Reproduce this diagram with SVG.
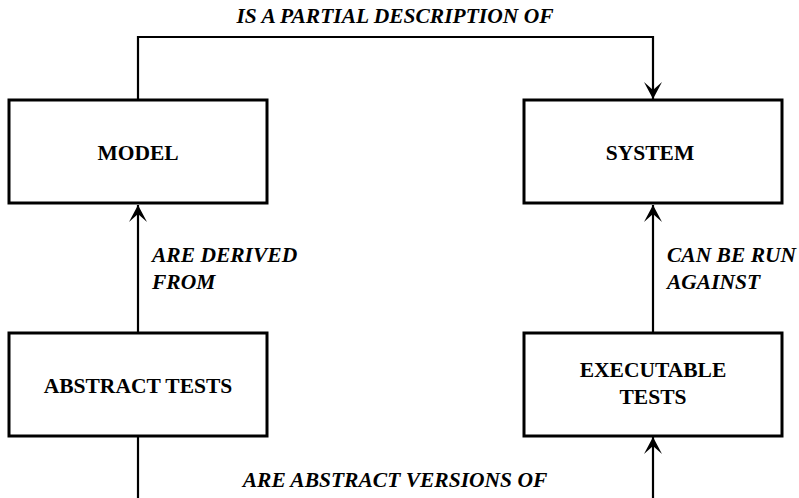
<svg xmlns="http://www.w3.org/2000/svg" width="799" height="498" viewBox="0 0 799 498">
  <style>
    .box { fill: #ffffff; stroke: #000000; stroke-width: 3; }
    .node-text { font-family: "Liberation Serif", "Times New Roman", serif; font-weight: bold; font-size: 21.5px; fill: #000000; text-anchor: middle; }
    .edge { fill: none; stroke: #000000; stroke-width: 2.2; }
    .edge-text { font-family: "Liberation Serif", "Times New Roman", serif; font-weight: bold; font-style: italic; font-size: 21.5px; fill: #000000; }
  </style>
  <defs>
    <marker id="arrow" markerUnits="userSpaceOnUse" markerWidth="20" markerHeight="20" viewBox="-18 -10 20 20" refX="0" refY="0" orient="auto">
      <path d="M0,0 L-17,-9 L-9,0 L-17,9 Z" fill="#000000"/>
    </marker>
  </defs>

  <rect width="799" height="498" fill="#ffffff"/>

  <g id="connectors">
    <path class="edge" d="M138,100 V37 H653 V99" marker-end="url(#arrow)"/>
    <text class="edge-text" x="395" y="23" text-anchor="middle">IS A PARTIAL DESCRIPTION OF</text>

    <path class="edge" d="M138,333 V205" marker-end="url(#arrow)"/>
    <text class="edge-text" x="152" y="262">ARE DERIVED</text>
    <text class="edge-text" x="152" y="289">FROM</text>

    <path class="edge" d="M653,333 V205" marker-end="url(#arrow)"/>
    <text class="edge-text" x="667" y="262">CAN BE RUN</text>
    <text class="edge-text" x="667" y="289">AGAINST</text>

    <path class="edge" d="M138,436 V498"/>
    <path class="edge" d="M653,498 V437" marker-end="url(#arrow)"/>
    <text class="edge-text" x="395" y="487" text-anchor="middle">ARE ABSTRACT VERSIONS OF</text>
  </g>

  <g id="model">
    <rect class="box" x="9" y="100" width="258" height="103"/>
    <text class="node-text" x="138" y="160">MODEL</text>
  </g>

  <g id="system">
    <rect class="box" x="524" y="100" width="258" height="103"/>
    <text class="node-text" x="650" y="160">SYSTEM</text>
  </g>

  <g id="abstract-tests">
    <rect class="box" x="9" y="333" width="258" height="103"/>
    <text class="node-text" x="138" y="393">ABSTRACT TESTS</text>
  </g>

  <g id="executable-tests">
    <rect class="box" x="524" y="333" width="258" height="103"/>
    <text class="node-text" x="653" y="377">EXECUTABLE</text>
    <text class="node-text" x="653" y="404">TESTS</text>
  </g>
</svg>
